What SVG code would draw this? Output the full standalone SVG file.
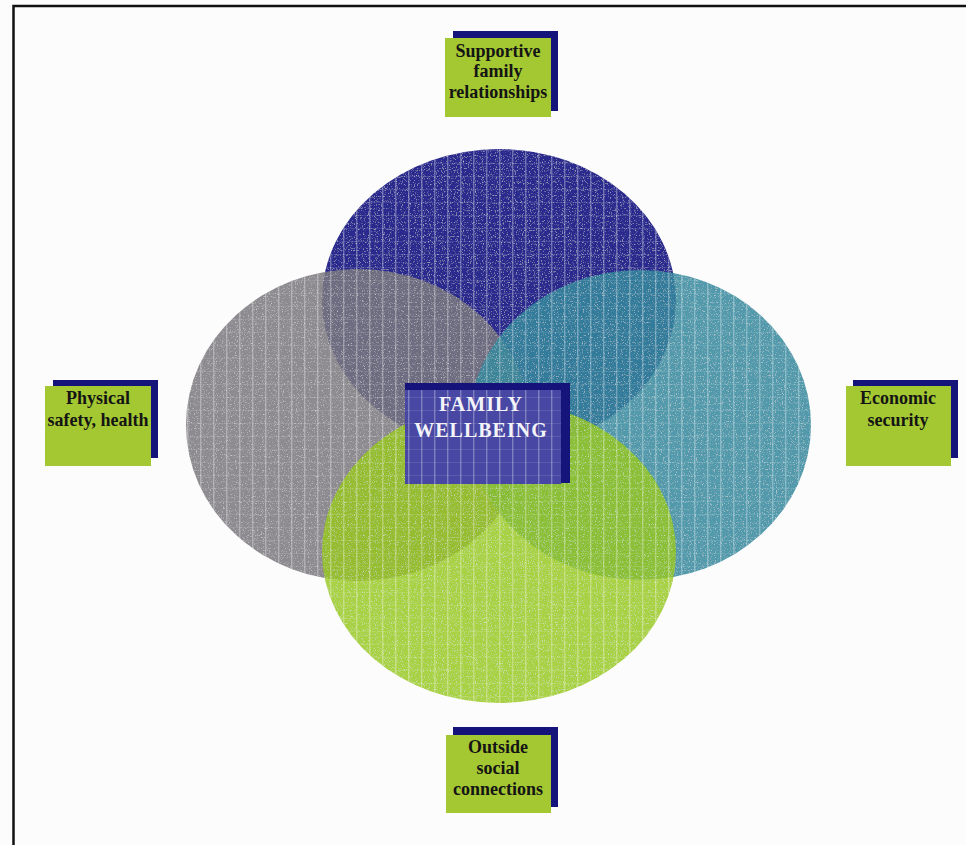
<svg xmlns="http://www.w3.org/2000/svg" width="966" height="845" viewBox="0 0 966 845">
  <defs>
    <!-- woven look: faint light threads over every disc -->
    <pattern id="weave" width="13" height="13" patternUnits="userSpaceOnUse">
      <rect x="5" y="0" width="1.4" height="13" fill="#ffffff" opacity="0.3"/>
      <rect x="0" y="7" width="13" height="1" fill="#ffffff" opacity="0.1"/>
    </pattern>
    <filter id="grain" x="0" y="0" width="100%" height="100%">
      <feTurbulence type="fractalNoise" baseFrequency="0.85" numOctaves="2" seed="3" result="n"/>
      <feColorMatrix in="n" type="matrix" values="0 0 0 0 1  0 0 0 0 1  0 0 0 0 1  0 0 0 1.4 -0.8" result="speck"/>
      <feComposite in="speck" in2="SourceGraphic" operator="in" result="specks"/>
      <feMerge><feMergeNode in="SourceGraphic"/><feMergeNode in="specks"/></feMerge>
    </filter>
    <style>
      .lbl { font-family: "Liberation Serif", "Times New Roman", serif; font-weight: bold; font-size: 18px; fill: #141414; text-anchor: middle; }
      .ctr { font-family: "Liberation Serif", "Times New Roman", serif; font-weight: bold; font-size: 20px; fill: #f4f4f8; text-anchor: middle; letter-spacing: 1px; }
      .shadow { fill: #14147a; }
      .card { fill: #a4c832; }
    </style>
  </defs>

  <rect width="966" height="845" fill="#fcfcfc"/>
  <!-- outer frame -->
  <rect x="13.5" y="6" width="970" height="860" fill="none" stroke="#111111" stroke-width="2.5"/>

  <!-- overlapping discs -->
  <g id="disc-supportive" filter="url(#grain)">
    <ellipse cx="499" cy="300" rx="177" ry="151" fill="#2c2c8e"/>
    <ellipse cx="499" cy="300" rx="177" ry="151" fill="url(#weave)"/>
  </g>
  <g id="disc-physical" filter="url(#grain)" opacity="0.85">
    <ellipse cx="358" cy="425" rx="172" ry="156" fill="#7a787e"/>
    <ellipse cx="358" cy="425" rx="172" ry="156" fill="url(#weave)"/>
  </g>
  <g id="disc-economic" filter="url(#grain)" opacity="0.85">
    <ellipse cx="640" cy="425" rx="171" ry="155" fill="#348a9e"/>
    <ellipse cx="640" cy="425" rx="171" ry="155" fill="url(#weave)"/>
  </g>
  <g id="disc-social" filter="url(#grain)" opacity="0.82">
    <ellipse cx="499" cy="552" rx="177" ry="151" fill="#98c81c"/>
    <ellipse cx="499" cy="552" rx="177" ry="151" fill="url(#weave)"/>
  </g>

  <!-- centre card -->
  <g id="family-wellbeing">
    <rect x="405" y="383" width="165" height="100" class="shadow"/>
    <rect x="405" y="390" width="156" height="94" fill="#4848a4"/>
    <rect x="405" y="390" width="156" height="94" fill="url(#weave)"/>
    <text x="481" y="411" class="ctr">FAMILY</text>
    <text x="481" y="437" class="ctr">WELLBEING</text>
  </g>

  <!-- outer labels -->
  <g id="supportive-family">
    <rect x="453" y="31" width="105" height="80" class="shadow"/>
    <rect x="445" y="38" width="106" height="79" class="card"/>
    <text x="498" y="57" class="lbl">Supportive</text>
    <text x="498" y="77" class="lbl">family</text>
    <text x="498" y="98" class="lbl">relationships</text>
  </g>
  <g id="physical-safety">
    <rect x="53" y="380" width="105" height="78" class="shadow"/>
    <rect x="45" y="386" width="106" height="80" class="card"/>
    <text x="98" y="404" class="lbl">Physical</text>
    <text x="98" y="426" class="lbl">safety, health</text>
  </g>
  <g id="economic-security">
    <rect x="853" y="380" width="105" height="78" class="shadow"/>
    <rect x="846" y="386" width="105" height="80" class="card"/>
    <text x="898" y="404" class="lbl">Economic</text>
    <text x="898" y="426" class="lbl">security</text>
  </g>
  <g id="outside-social">
    <rect x="453" y="727" width="105" height="80" class="shadow"/>
    <rect x="446" y="735" width="105" height="78" class="card"/>
    <text x="498" y="753" class="lbl">Outside</text>
    <text x="498" y="774" class="lbl">social</text>
    <text x="498" y="795" class="lbl">connections</text>
  </g>
</svg>
